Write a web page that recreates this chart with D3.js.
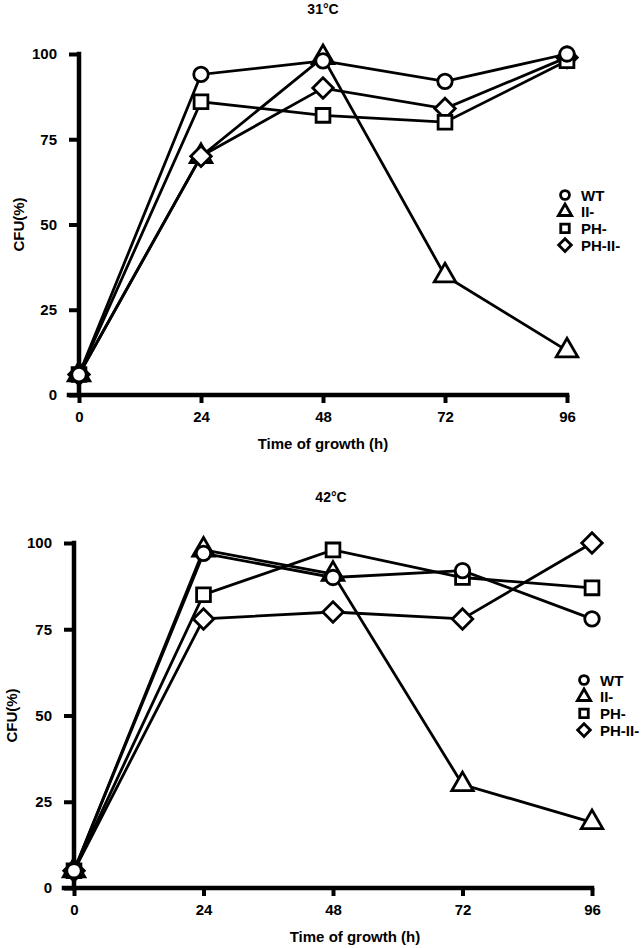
<!DOCTYPE html>
<html>
<head>
<meta charset="utf-8">
<script src="https://cdn.jsdelivr.net/npm/d3@7"></script>
<style>
  html, body { margin: 0; padding: 0; background: #fff; }
  svg { display: block; }
  text { font-family: "Liberation Sans", Arial, sans-serif; font-weight: bold; fill: #000; }
</style>
</head>
<body>
<svg id="chart" width="643" height="948"></svg>
<script>
// ---- data ----
const hours = [0, 24, 48, 72, 96];
const seriesNames = ["WT", "II-", "PH-", "PH-II-"];
const yTicks = [0, 25, 50, 75, 100];
const xTicks = [0, 24, 48, 72, 96];

const t31_WT     = [6, 94, 98, 92, 100];
const t31_II     = [6, 70, 99, 35, 13];
const t31_PH     = [6, 86, 82, 80, 98];
const t31_PHII   = [6, 70, 90, 84, 99];

const t42_WT     = [5, 97, 90, 92, 78];
const t42_II     = [5, 98, 91, 30, 19];
const t42_PH     = [5, 85, 98, 90, 87];
const t42_PHII   = [5, 78, 80, 78, 100];

const panelTitles = ["31°C", "42°C"];
const xTitle = "Time of growth (h)";
const yTitle = "CFU(%)";

// ---- drawing ----
const svg = d3.select("#chart");
const symbolTypes = {
  "WT": d3.symbolCircle,
  "II-": d3.symbolTriangle,
  "PH-": d3.symbolSquare,
  "PH-II-": d3.symbolSquare
};
const symbolRot = { "WT": 0, "II-": 0, "PH-": 0, "PH-II-": 45 };
const symbolSize = { "WT": 165, "II-": 200, "PH-": 190, "PH-II-": 210 };
const FS = "15px";

function drawPanel(cfg) {
  const x = d3.scaleLinear().domain([0, 96]).range([cfg.x0, cfg.x1]);
  const y = d3.scaleLinear().domain([0, 100]).range([cfg.y0, cfg.y1]);
  const g = svg.append("g");

  // title
  g.append("text").attr("x", cfg.titleX).attr("y", cfg.titleY)
    .attr("text-anchor", "middle").attr("dominant-baseline", "central")
    .style("font-size", "14px").text(cfg.title);

  // y axis
  const yAxis = d3.axisLeft(y).tickValues(yTicks).tickSize(10).tickPadding(12);
  const ya = g.append("g").attr("transform", `translate(${cfg.x0},0)`).call(yAxis);
  // x axis
  const xAxis = d3.axisBottom(x).tickValues(xTicks).tickSize(8).tickPadding(8);
  const xa = g.append("g").attr("transform", `translate(0,${cfg.y0})`).call(xAxis);

  [ya, xa].forEach(a => {
    a.select(".domain").attr("stroke", "#000").attr("stroke-width", 4.5)
      .attr("stroke-linecap", "square");
    a.selectAll(".tick line").attr("stroke", "#000").attr("stroke-width", 4);
    a.selectAll(".tick text").style("font-size", FS)
      .style("font-family", '"Liberation Sans", Arial, sans-serif')
      .style("font-weight", "bold").attr("fill", "#000");
  });
  ya.select(".domain").attr("d", `M0,${cfg.y0}V${cfg.y1}`);
  xa.select(".domain").attr("d", `M${cfg.x0 - 10},0H${cfg.x1}`);

  // axis titles
  g.append("text").attr("x", cfg.xTitleX).attr("y", cfg.y0 + 48)
    .attr("text-anchor", "middle").attr("dominant-baseline", "central")
    .style("font-size", FS).text(xTitle);
  g.append("text")
    .attr("transform", `translate(${cfg.yTitleX},${(cfg.y0 + cfg.y1) / 2}) rotate(-90)`)
    .attr("text-anchor", "middle").attr("dominant-baseline", "central")
    .style("font-size", FS).text(yTitle);

  const line = d3.line().x((d, i) => x(hours[i])).y(d => y(d));
  const order = [1, 3, 2, 0];
  // lines first
  order.forEach(k => {
    g.append("path").datum(cfg.series[k]).attr("d", line)
      .attr("fill", "none").attr("stroke", "#000").attr("stroke-width", 2.8);
  });
  // markers
  order.forEach(k => {
    const name = seriesNames[k];
    const sym = d3.symbol().type(symbolTypes[name]).size(symbolSize[name]);
    g.selectAll(null).data(cfg.series[k]).enter().append("path")
      .attr("d", sym)
      .attr("transform", (d, i) => `translate(${x(hours[i])},${y(d)}) rotate(${symbolRot[name]})`)
      .attr("fill", "#fff").attr("stroke", "#000").attr("stroke-width", 2.8);
  });

  // legend
  seriesNames.forEach((name, k) => {
    const ly = cfg.legY + k * cfg.legStep;
    const sym = d3.symbol().type(symbolTypes[name]).size(symbolSize[name] * 0.38);
    g.append("path").attr("d", sym)
      .attr("transform", `translate(${cfg.legX},${ly}) rotate(${symbolRot[name]})`)
      .attr("fill", "#fff").attr("stroke", "#000").attr("stroke-width", 2.8);
    g.append("text").attr("x", cfg.legX + 16).attr("y", ly)
      .attr("dominant-baseline", "central").style("font-size", FS).text(name);
  });
}

drawPanel({
  title: panelTitles[0], titleX: 323, titleY: 9,
  x0: 79, x1: 567, y0: 395, y1: 54,
  xTitleX: 323, yTitleX: 18,
  legX: 565, legY: 195, legStep: 16.7,
  series: [t31_WT, t31_II, t31_PH, t31_PHII]
});
drawPanel({
  title: panelTitles[1], titleX: 331, titleY: 497,
  x0: 74, x1: 592, y0: 888, y1: 543,
  xTitleX: 355, yTitleX: 11,
  legX: 584, legY: 680, legStep: 16.7,
  series: [t42_WT, t42_II, t42_PH, t42_PHII]
});
</script>
</body>
</html>
